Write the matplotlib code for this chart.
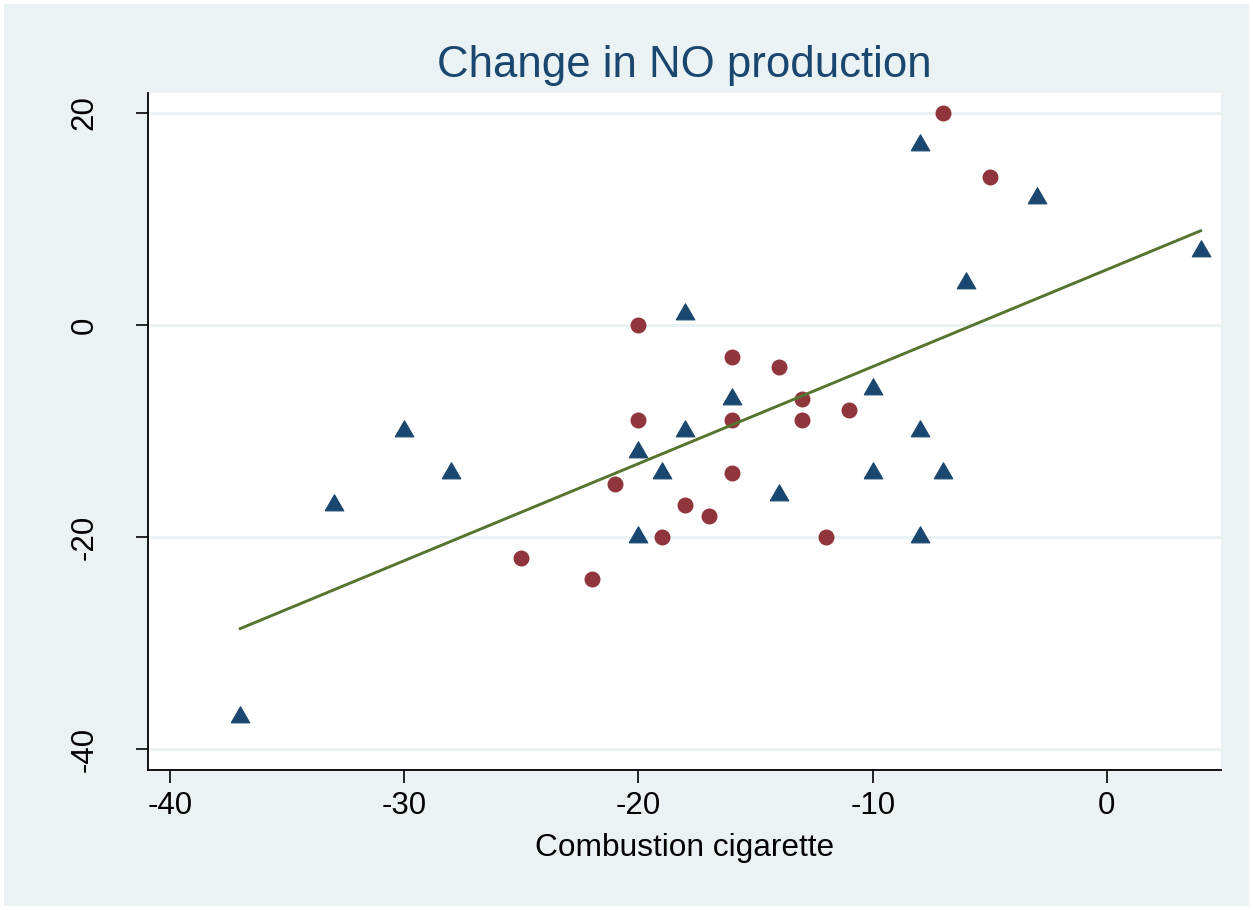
import numpy as np
import matplotlib
matplotlib.use("Agg")
import matplotlib.pyplot as plt
from matplotlib.patches import Rectangle

plt.rcParams['font.family'] = ['Liberation Sans', 'DejaVu Sans']

# triangles (navy)
tri_x = [-37, -33, -30, -28, -20, -20, -19, -18, -18, -16, -14, -10, -10, -8, -8, -8, -7, -6, -3, 4]
tri_y = [-37, -17, -10, -14, -12, -20, -14, 1, -10, -7, -16, -6, -14, 17, -10, -20, -14, 4, 12, 7]

# circles (maroon)
circ_x = [-25, -22, -21, -20, -20, -19, -18, -17, -16, -16, -16, -14, -13, -13, -12, -11, -7, -5]
circ_y = [-22, -24, -15, 0, -9, -20, -17, -18, -3, -9, -14, -4, -7, -9, -20, -8, 20, 14]

x_ticks = [-40, -30, -20, -10, 0]
y_ticks = [-40, -20, 0, 20]

navy = '#1a476f'
maroon = '#90353b'
olive = '#55752f'
bg = '#eaf2f3'

# equilateral triangle centred on its centroid
tri_marker = [(-1, -0.577), (1, -0.577), (0, 1.155), (-1, -0.577)]

fig = plt.figure(figsize=(12.53, 9.10), dpi=100, facecolor='white')
fig.patches.append(Rectangle((4 / 1253, 4 / 910), 1245 / 1253, 902 / 910,
                             transform=fig.transFigure, facecolor=bg,
                             edgecolor='none', zorder=-1))
ax = fig.add_axes([148 / 1253, 1 - 770 / 910, (1221 - 148) / 1253, (770 - 93) / 910])
ax.set_facecolor('white')

# linear fit over all points
all_x = np.array(tri_x + circ_x, dtype=float)
all_y = np.array(tri_y + circ_y, dtype=float)
b, a = np.polyfit(all_x, all_y, 1)
fx = np.array([all_x.min(), all_x.max()])

for yt in y_ticks:
    ax.axhline(yt, color=bg, lw=2.2, zorder=0)

ax.scatter(tri_x, tri_y, marker=tri_marker, s=15.5 ** 2, color=navy,
           edgecolors=navy, linewidths=0.8, zorder=3)
ax.scatter(circ_x, circ_y, marker='o', s=11.5 ** 2, color=maroon, linewidths=0, zorder=3)
ax.plot(fx, a + b * fx, color=olive, lw=2.1, zorder=4)

ax.set_xlim(-40.94, 4.87)
ax.set_ylim(-41.98, 21.89)
ax.set_xticks(x_ticks)
ax.set_yticks(y_ticks)
ax.set_xticklabels([str(v) for v in x_ticks], fontsize=22.5)
ax.set_yticklabels([str(v) for v in y_ticks], fontsize=22.5, rotation=90, va='center')
ax.tick_params(direction='out', length=9, width=1.2, color='black')
ax.tick_params(axis='x', pad=6)
ax.tick_params(axis='y', pad=26)

for s in ['top', 'right']:
    ax.spines[s].set_visible(False)
for s in ['left', 'bottom']:
    ax.spines[s].set_color('black')
    ax.spines[s].set_linewidth(1.3)

ax.set_xlabel('Combustion cigarette', fontsize=22.8, labelpad=9)
fig.text(0.5 * (148 + 1221) / 1253, 1 - 66 / 910, 'Change in NO production',
         fontsize=31.5, color=navy, ha='center', va='center')

fig.savefig('out.png', dpi=100, facecolor='white')
